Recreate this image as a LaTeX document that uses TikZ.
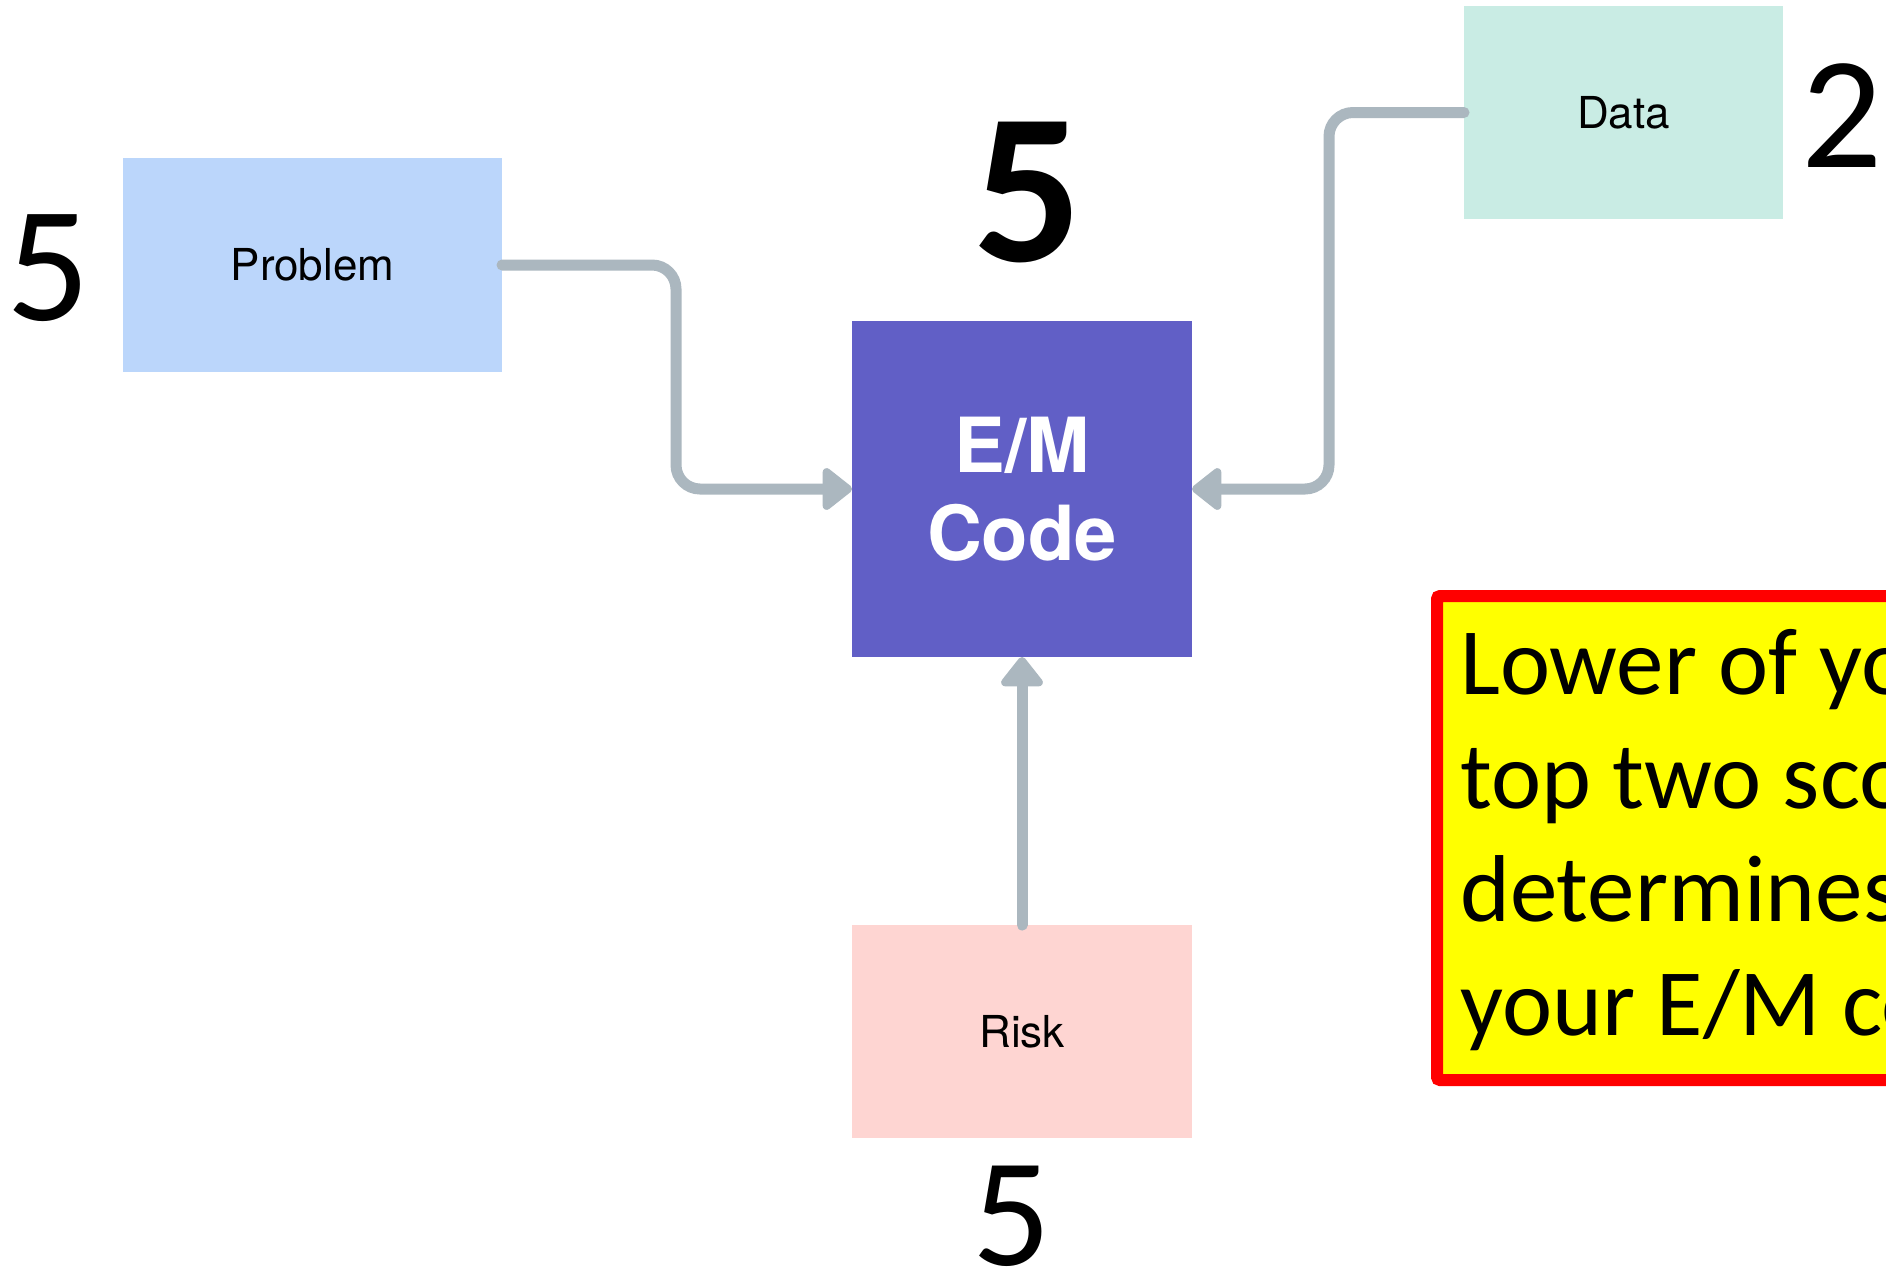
\documentclass[tikz,border=0pt]{standalone}
\usepackage{fontspec}
\setmainfont{Carlito}
\newfontfamily\labelfont{TeX Gyre Heros}
\usetikzlibrary{arrows.meta}
\definecolor{probblue}{HTML}{BBD6FB}
\definecolor{datagreen}{HTML}{C9ECE4}
\definecolor{emviolet}{HTML}{615FC6}
\definecolor{riskpink}{HTML}{FED5D2}
\definecolor{conngrey}{HTML}{ABB7BF}
\definecolor{notered}{HTML}{FF0000}
\definecolor{noteyellow}{HTML}{FFFF00}
\tikzset{
  box/.style={inner sep=0pt, outer sep=0pt, font=\labelfont\fontsize{44}{52}\selectfont, text=black},
  conn/.style={draw=conngrey, line width=11pt, line cap=round, rounded corners=24pt,
    -{Triangle[round, length=32pt, width=48pt]}},
  score/.style={inner sep=0pt, font=\fontsize{165}{180}\selectfont},
}
\begin{document}
\begin{tikzpicture}[x=1pt,y=-1pt]
\clip (0,0) rectangle (1886,1272);
\fill[white] (0,0) rectangle (1886,1272);
% boxes
\node[box, fill=probblue, minimum width=379pt, minimum height=214pt] (prob) at (312.5,265) {Problem};
\node[box, fill=emviolet, minimum width=340pt, minimum height=336pt, text=white, align=center,
  font=\labelfont\bfseries\fontsize{76}{88}\selectfont] (em) at (1022,489) {E/M\\Code};
\node[box, fill=datagreen, minimum width=319pt, minimum height=213pt] (data) at (1623.5,112.5) {Data};
\node[box, fill=riskpink, minimum width=340pt, minimum height=213pt] (risk) at (1022,1031.5) {Risk};
% scores
\node[score] (sprob) at (48,268) {5};
\node[score, font=\bfseries\fontsize{215}{230}\selectfont] (sem) at (1028,193) {5};
\node[score, font=\fontsize{160}{175}\selectfont] (sdata) at (1842,116) {2};
\node[score, font=\fontsize{155}{170}\selectfont] (srisk) at (1012,1216) {5};
% connectors
\coordinate (pbend) at (676,265);
\coordinate (dbend) at (1329,112.5);
\draw[conn] (prob.east) -- (pbend) |- (em.west);
\draw[conn] (data.west) -- (dbend) |- (em.east);
\draw[conn] (risk.north) -- (em.south);
% note
\draw[notered, fill=noteyellow, line width=12pt, rounded corners=3pt] (1437,596) rectangle (1960,1080);
\node[anchor=base west, align=left, inner sep=0pt, font=\fontsize{95}{113.5}\selectfont] (note) at (1460,1035)
  {Lower of your\\top two scores\\determines\\your E/M code};
\end{tikzpicture}
\end{document}
